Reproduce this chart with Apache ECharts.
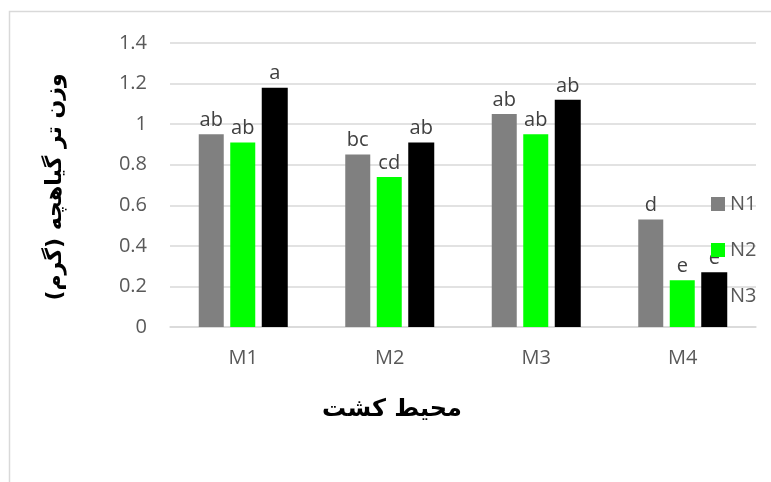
<!DOCTYPE html>
<html>
<head>
<meta charset="utf-8">
<script src="https://cdn.jsdelivr.net/npm/echarts@6/dist/echarts.min.js"></script>
<style>
html, body { margin: 0; padding: 0; background: #fff; }
#main { width: 771px; height: 482px; }
</style>
</head>
<body>
<div id="main"></div>
<script>
// داده‌ها
var categories = ['M1', 'M2', 'M3', 'M4'];
var n1 = [0.95, 0.85, 1.05, 0.53];
var n2 = [0.91, 0.74, 0.95, 0.23];
var n3 = [1.18, 0.91, 1.12, 0.27];
// حروف مقایسه میانگین
var n1Letters = ['ab', 'bc', 'ab', 'd'];
var n2Letters = ['ab', 'cd', 'ab', 'e'];
var n3Letters = ['a', 'ab', 'ab', 'e'];
var yTicks = [0, 0.2, 0.4, 0.6, 0.8, 1, 1.2, 1.4];

var myChart = echarts.init(document.getElementById('main'));

function letterLabel(letters) {
    return {
        show: true,
        position: 'top',
        distance: 4,
        color: '#404040',
        fontSize: 20,
        fontFamily: 'Open Sans',
        formatter: function (p) { return letters[p.dataIndex]; }
    };
}

myChart.setOption({
    backgroundColor: '#fff',
    animation: false,
    grid: {
        left: 170,
        right: 15,
        top: 43,
        bottom: 155
    },
    legend: {
        data: ['N1', 'N2', 'N3'],
        orient: 'vertical',
        left: 711,
        top: 194,
        icon: 'rect',
        itemWidth: 14,
        itemHeight: 14,
        itemGap: 26,
        padding: 0,
        textStyle: {
            color: '#595959',
            fontSize: 20,
            fontFamily: 'Open Sans'
        }
    },
    xAxis: {
        type: 'category',
        data: categories,
        axisLine: { lineStyle: { color: '#d9d9d9', width: 1.5 } },
        axisTick: { show: false },
        axisLabel: {
            color: '#595959',
            fontSize: 20,
            fontFamily: 'Open Sans',
            margin: 21
        }
    },
    yAxis: {
        type: 'value',
        min: yTicks[0],
        max: yTicks[yTicks.length - 1],
        interval: 0.2,
        axisLine: { show: false },
        axisTick: { show: false },
        axisLabel: {
            color: '#595959',
            fontSize: 20,
            fontFamily: 'Open Sans',
            margin: 23,
            formatter: function (v) { return String(+v.toFixed(1)); }
        },
        splitLine: { lineStyle: { color: '#d9d9d9', width: 1.5 } }
    },
    graphic: [
        {
            type: 'rect',
            shape: { x: 9.5, y: 11.5, width: 800, height: 500 },
            style: { fill: 'none', stroke: '#d9d9d9', lineWidth: 1.5 },
            silent: true
        },
        {
            type: 'text',
            x: 55,
            y: 187,
            rotation: Math.PI / 2,
            style: {
                text: 'وزن تر گیاهچه (گرم)',
                fill: '#000',
                font: 'bold 22px "DejaVu Sans"',
                align: 'center',
                verticalAlign: 'middle'
            }
        },
        {
            type: 'text',
            x: 392,
            y: 410,
            style: {
                text: 'محیط کشت',
                fill: '#000',
                font: 'bold 24px "DejaVu Sans"',
                align: 'center',
                verticalAlign: 'middle'
            }
        }
    ],
    series: [
        {
            name: 'N1',
            type: 'bar',
            barWidth: 25,
            barGap: '30%',
            itemStyle: { color: '#808080' },
            label: letterLabel(n1Letters),
            data: n1
        },
        {
            name: 'N2',
            type: 'bar',
            barWidth: 25,
            barGap: '30%',
            itemStyle: { color: '#00ff00' },
            label: letterLabel(n2Letters),
            data: n2
        },
        {
            name: 'N3',
            type: 'bar',
            barWidth: 26,
            barGap: '26%',
            itemStyle: { color: '#000000' },
            label: letterLabel(n3Letters),
            data: n3
        }
    ]
});
</script>
</body>
</html>
